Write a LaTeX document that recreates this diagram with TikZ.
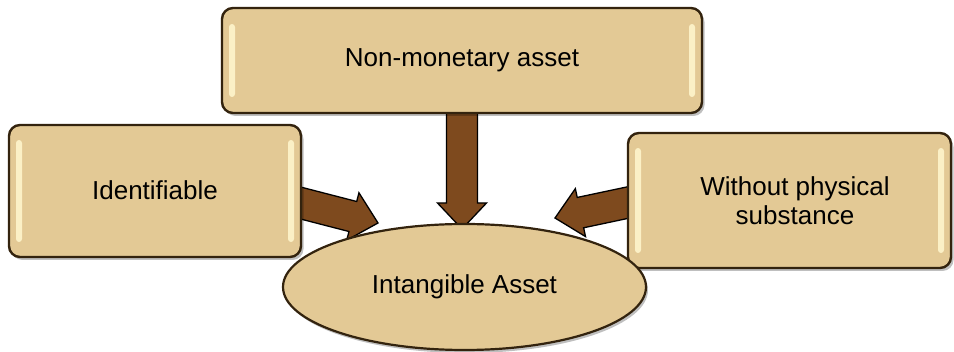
\documentclass[tikz,border=0pt]{standalone}
\usepackage{fontspec}
\setmainfont{Liberation Sans}
\usetikzlibrary{calc,shadows,shapes.geometric}
\definecolor{boxfill}{HTML}{E3C995}
\definecolor{boxline}{HTML}{33230E}
\definecolor{arrfill}{HTML}{7E4A1E}
\definecolor{hilite}{HTML}{FBF0C6}
\tikzset{
  card/.style={draw=boxline, line width=2.4pt, fill=boxfill, rounded corners=11pt,
    drop shadow={shadow xshift=2.5pt, shadow yshift=-3pt, opacity=0.25, fill=black}},
  oval/.style={ellipse, draw=boxline, line width=2.2pt, fill=boxfill, inner sep=0pt,
    minimum width=363pt, minimum height=126pt,
    drop shadow={shadow xshift=2pt, shadow yshift=-3pt, opacity=0.25, fill=black}},
  label/.style={font=\fontsize{26}{32}\selectfont, align=center, text=black},
  barrow/.style={draw=black, line width=1.3pt, fill=arrfill, line join=miter},
  strip/.style={fill=hilite, draw=none, rounded corners=3pt}
}
\newcommand\blockarrow[3]{%
  \coordinate (#3h) at ($(#2)!26pt!(#1)$);
  \draw[barrow] ($(#1)!15.5pt!90:(#2)$) -- ($(#3h)!15.5pt!-90:(#1)$) -- ($(#3h)!24.5pt!-90:(#1)$)
    -- (#2) -- ($(#3h)!24.5pt!90:(#1)$) -- ($(#3h)!15.5pt!90:(#1)$) -- ($(#1)!15.5pt!-90:(#2)$) -- cycle;}
\begin{document}
\begin{tikzpicture}[x=1pt,y=-1pt]
\useasboundingbox (0,0) rectangle (954,352);
% arrow end points
\coordinate (la) at (285,199);
\coordinate (lb) at (378,223);
\coordinate (ma) at (462,100);
\coordinate (mb) at (462,229);
\coordinate (ra) at (640,200);
\coordinate (rb) at (555,218);
\blockarrow{la}{lb}{l}
\blockarrow{ma}{mb}{m}
\blockarrow{ra}{rb}{r}
% boxes
\draw[card] (222,8) rectangle (702,113);
\draw[card] (9,125) rectangle (301,257);
\draw[card] (628,133) rectangle (951,268);
% highlight strips
\fill[strip] (229,24) rectangle (235,97);
\fill[strip] (689,24) rectangle (695,97);
\fill[strip] (16,140) rectangle (22,242);
\fill[strip] (288,140) rectangle (294,242);
\fill[strip] (635,148) rectangle (641,253);
\fill[strip] (938,148) rectangle (944,253);
% text nodes
\node[label] (top) at (462,60) {Non-monetary asset};
\node[label] (left) at (155,190) {Identifiable};
\node[label] (right) at (795,201) {Without physical\\[-3pt]substance};
\node[oval, label] (goal) at (464.5,287) {Intangible Asset};
\end{tikzpicture}
\end{document}
